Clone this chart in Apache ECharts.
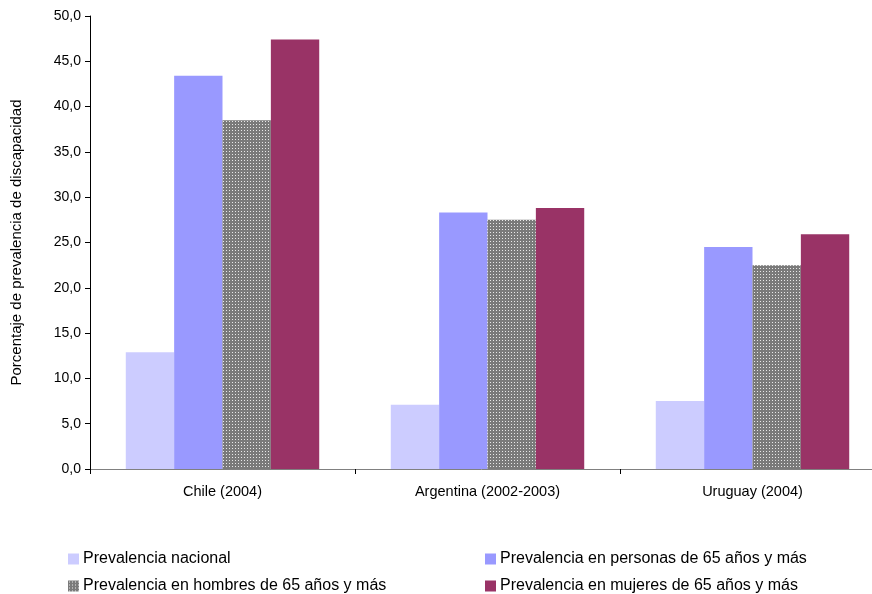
<!DOCTYPE html>
<html>
<head>
<meta charset="utf-8">
<script src="https://cdn.jsdelivr.net/npm/echarts@6/dist/echarts.min.js"></script>
<style>html,body{margin:0;padding:0;background:#fff}#c{width:872px;height:594px}</style>
</head>
<body>
<div id="c"></div>
<script>
const categories = ['Chile (2004)', 'Argentina (2002-2003)', 'Uruguay (2004)'];
const seriesNames = ['Prevalencia nacional', 'Prevalencia en personas de 65 años y más', 'Prevalencia en hombres de 65 años y más', 'Prevalencia en mujeres de 65 años y más'];
const nacional = [12.9, 7.1, 7.5];
const personas65 = [43.4, 28.3, 24.5];
const hombres65 = [38.5, 27.5, 22.5];
const mujeres65 = [47.4, 28.8, 25.9];
const yTicks = {min: 0, max: 50, interval: 5};

const pc = document.createElement('canvas');
pc.width = 3; pc.height = 3;
const g = pc.getContext('2d');
g.fillStyle = '#7a7a7a'; g.fillRect(0, 0, 3, 3);
g.fillStyle = '#e8e8e8'; g.fillRect(1, 1, 1, 1);
const pattern = {image: pc, repeat: 'repeat'};

const colors = ['#CCCCFF', '#9999FF', pattern, '#993366'];
const data = [nacional, personas65, hombres65, mujeres65];
const font = 'Liberation Sans, Arial, sans-serif';

const legendBase = {orient: 'vertical', top: 546, height: 60, itemGap: 11, itemWidth: 11, itemHeight: 11, icon: 'rect',
  itemStyle: {borderWidth: 0}, textStyle: {fontSize: 16, color: '#000', fontFamily: font, padding: [0, 0, 0, -1]}};

const chart = echarts.init(document.getElementById('c'));
chart.setOption({
  animation: false,
  textStyle: {fontFamily: font},
  grid: {left: 90, top: 16, bottom: 125, right: -13, containLabel: false, outerBoundsMode: 'none'},
  legend: [
    Object.assign({}, legendBase, {left: 63, data: [seriesNames[0], seriesNames[2]]}),
    Object.assign({}, legendBase, {left: 480, data: [seriesNames[1], seriesNames[3]]})
  ],
  xAxis: {
    type: 'category', data: categories,
    axisLine: {lineStyle: {color: '#808080', width: 1}},
    axisTick: {show: true, length: 5, lineStyle: {color: '#000'}},
    axisLabel: {color: '#000', fontSize: 14.5, margin: 15, fontFamily: font}
  },
  yAxis: {
    type: 'value', min: yTicks.min, max: yTicks.max, interval: yTicks.interval,
    name: 'Porcentaje de prevalencia de discapacidad', nameLocation: 'middle', nameGap: 66,
    nameTextStyle: {color: '#000', fontSize: 15, fontFamily: font},
    axisLine: {show: true, lineStyle: {color: '#000', width: 1}},
    axisTick: {show: true, length: 5, lineStyle: {color: '#000'}},
    splitLine: {show: false},
    axisLabel: {color: '#000', fontSize: 14, margin: 9, fontFamily: font,
      formatter: v => v.toFixed(1).replace('.', ',')}
  },
  series: data.map((d, i) => ({
    name: seriesNames[i], type: 'bar', data: d,
    barGap: '0%', barCategoryGap: '27%',
    itemStyle: {color: colors[i]}
  }))
});
</script>
</body>
</html>
